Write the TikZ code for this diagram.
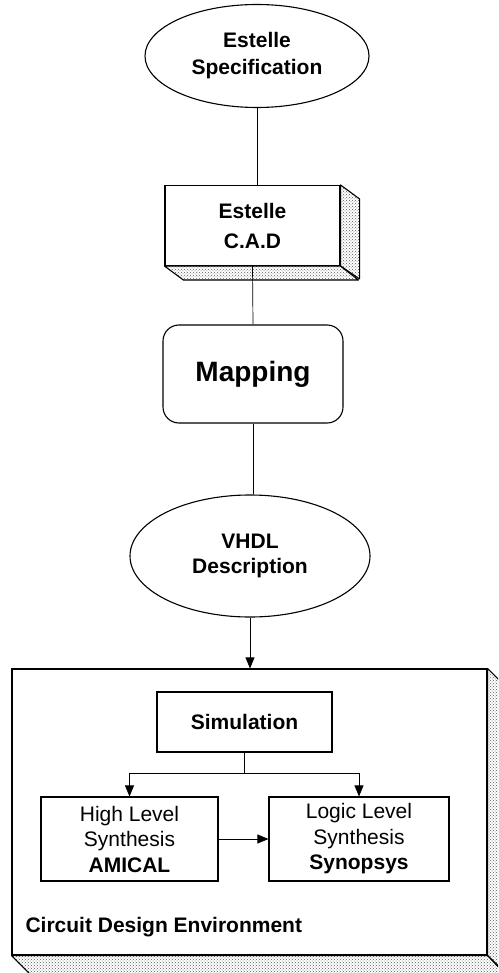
\documentclass[tikz,border=0pt]{standalone}
\usepackage{fontspec}
\setmainfont{Liberation Sans}
\usetikzlibrary{arrows.meta,patterns,shapes.geometric}
\begin{document}
\begin{tikzpicture}[x=1pt,y=-1pt,
  outline/.style={draw=black,line width=1.1pt},
  link/.style={draw=black,line width=0.7pt},
  arr/.style={link,-{Triangle[width=9pt,length=11pt]}},
  speckle/.style={pattern=crosshatch dots,pattern color=black!65},
  lbl/.style={font=\fontsize{21}{27}\selectfont\bfseries,align=center,text=black},
  plainlbl/.style={font=\fontsize{21}{25.5}\selectfont,align=center,text=black},
  blob/.style={ellipse,outline,inner sep=0pt,lbl},
  boxnode/.style={rectangle,outline,inner sep=0pt,fill=white},
]
\useasboundingbox (0,0) rectangle (498,973);
\clip (0,0) rectangle (498,973);

% Estelle specification
\node[blob,minimum width=224pt,minimum height=103pt] (spec) at (257,56) {Estelle\\Specification};

% Estelle C.A.D block with its extruded sides
\node[boxnode,lbl,minimum width=175pt,minimum height=80pt] (cad) at (252.5,225.5) {Estelle\\[3pt]C.A.D};
\draw[outline,speckle,line join=round] (cad.north east) -- ++(19,14) -- ++(0,80) -- (cad.south east) -- cycle;
\draw[outline,speckle,line join=round] (cad.south west) -- ++(19,14) -- ++(175,0) -- (cad.south east) -- cycle;

% Mapping
\node[boxnode,rounded corners=16pt,minimum width=180pt,minimum height=98pt,
      font=\fontsize{28}{32}\selectfont\bfseries] (map) at (253,374) {Mapping};

% VHDL description
\node[blob,minimum width=240pt,minimum height=122pt] (vhdl) at (250,556) {VHDL\\[-2pt]Description};

% Circuit design environment frame with its extruded sides
\node[boxnode,minimum width=475pt,minimum height=286pt] (env) at (249.5,812) {};
\draw[outline,speckle,line join=round] (env.north east) -- ++(20,20) -- ++(0,286) -- (env.south east) -- cycle;
\draw[outline,speckle,line join=round] (env.south west) -- ++(20,20) -- ++(475,0) -- (env.south east) -- cycle;
\node[lbl,anchor=base west] (envname) at (22,932) {Circuit Design Environment};

% Inner blocks
\node[boxnode,lbl,minimum width=175pt,minimum height=60pt] (sim) at (244.5,722) {Simulation};
\node[boxnode,plainlbl,minimum width=177pt,minimum height=84pt] (high) at (129.5,839) {High Level\\Synthesis\\\textbf{AMICAL}};
\node[boxnode,plainlbl,minimum width=180pt,minimum height=84pt] (logic) at (359,839) {Logic Level\\Synthesis\\\textbf{Synopsys}};

% Connectors
\draw[link] (spec.south) -- (spec.south |- cad.north);
\draw[link] (cad.south) -- (map.north);
\draw[link] (map.south) -- (map.south |- vhdl.north);
\draw[arr] (vhdl.south) -- (vhdl.south |- env.north);
\draw[link] (sim.south) -- ++(0,21) coordinate (split);
\draw[arr] (split) -| (high.north);
\draw[arr] (split) -| (logic.north);
\draw[arr] (high.east) -- (logic.west);
\end{tikzpicture}
\end{document}
